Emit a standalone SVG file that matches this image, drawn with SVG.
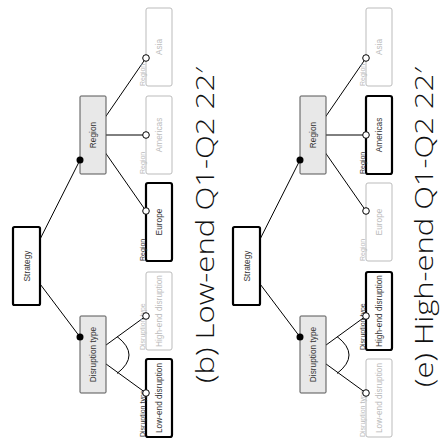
<svg xmlns="http://www.w3.org/2000/svg" width="443" height="444" viewBox="0 0 443 444">
<style>
.edge{stroke:#000;stroke-width:1;fill:none}
.par{fill:#e8e8e8;stroke:#555;stroke-width:1}
.root{fill:#fff;stroke:#000;stroke-width:2.2}
.sel{fill:#fff;stroke:#000;stroke-width:2.2}
.uns{fill:#fff;stroke:#bbb;stroke-width:1}
.t{font-family:"Liberation Sans",Arial,sans-serif;font-size:8.3px;text-anchor:middle;dominant-baseline:central}
.td{fill:#333}
.tg{fill:#bbb}
.lab{font-family:"Liberation Sans",Arial,sans-serif;font-size:7px;text-anchor:start}
.cap{font-family:"Open Sans","Noto Sans",sans-serif;font-size:25px;font-weight:300;text-anchor:middle;fill:#111}
.oc{fill:#fff;stroke:#000;stroke-width:1}
.dot{fill:#000}
</style>
<defs>
<g id="base">
  <g id="connectors">
    <line class="edge" x1="26.5" y1="266" x2="80" y2="160"/>
    <line class="edge" x1="26.5" y1="266" x2="80" y2="337"/>
    <line class="edge" x1="93" y1="135" x2="146" y2="58"/>
    <line class="edge" x1="93" y1="135" x2="146" y2="135"/>
    <line class="edge" x1="93" y1="135" x2="146" y2="211"/>
    <line class="edge" x1="93" y1="354.5" x2="146" y2="316"/>
    <line class="edge" x1="93" y1="354.5" x2="146" y2="393"/>
    <path class="edge" d="M117,336.5 Q141,355 117,373.5"/>
  </g>
</g>
</defs>

<!-- Panel (b) -->
<g id="panel-b">
  <use href="#base"/>
  <g id="b-strategy"><rect class="root" x="13" y="227" width="27" height="78" rx="1.5"/><text class="t td" transform="translate(26.5,266) rotate(-90)">Strategy</text></g>
  <g id="b-region"><rect class="par" x="80" y="96" width="26" height="78" rx="1"/><text class="t td" transform="translate(93,135) rotate(-90)">Region</text></g>
  <g id="b-disruption"><rect class="par" x="80" y="316" width="26" height="77" rx="1"/><text class="t td" transform="translate(93,354.5) rotate(-90)">Disruption type</text></g>
  <g id="b-asia"><rect class="uns" x="146" y="8" width="26" height="78" rx="2"/><text class="t tg" transform="translate(159,47) rotate(-90)">Asia</text><text class="lab tg" transform="translate(144.5,86) rotate(-90)">Region</text></g>
  <g id="b-americas"><rect class="uns" x="146" y="96" width="26" height="78" rx="2"/><text class="t tg" transform="translate(159,135) rotate(-90)">Americas</text><text class="lab tg" transform="translate(144.5,174) rotate(-90)">Region</text></g>
  <g id="b-europe"><rect class="sel" x="146" y="183" width="26" height="78" rx="2"/><text class="t td" transform="translate(159,222) rotate(-90)">Europe</text><text class="lab td" transform="translate(144.5,261) rotate(-90)">Region</text></g>
  <g id="b-high"><rect class="uns" x="146" y="272" width="26" height="78" rx="2"/><text class="t tg" transform="translate(159,311) rotate(-90)">High-end disruption</text><text class="lab tg" transform="translate(144.5,350) rotate(-90)">Disruption type</text></g>
  <g id="b-low"><rect class="sel" x="146" y="359" width="26" height="78" rx="2"/><text class="t td" transform="translate(159,398) rotate(-90)">Low-end disruption</text><text class="lab td" transform="translate(144.5,437) rotate(-90)">Disruption type</text></g>
  <g id="b-decor">
    <circle class="dot" cx="80" cy="160" r="3.5"/><circle class="dot" cx="80" cy="337" r="3.5"/>
    <circle class="oc" cx="146" cy="58" r="3.3"/><circle class="oc" cx="146" cy="135" r="3.3"/><circle class="oc" cx="146" cy="211" r="3.3"/><circle class="oc" cx="146" cy="316" r="3.3"/><circle class="oc" cx="146" cy="393" r="3.3"/>
  </g>
  <text class="cap" transform="translate(214,225) rotate(-90)" textLength="316" lengthAdjust="spacingAndGlyphs">(b) Low-end Q1-Q2 22′</text>
</g>

<!-- Panel (e) -->
<g id="panel-e" transform="translate(220,0)">
  <use href="#base"/>
  <g id="e-strategy"><rect class="root" x="13" y="227" width="27" height="78" rx="1.5"/><text class="t td" transform="translate(26.5,266) rotate(-90)">Strategy</text></g>
  <g id="e-region"><rect class="par" x="80" y="96" width="26" height="78" rx="1"/><text class="t td" transform="translate(93,135) rotate(-90)">Region</text></g>
  <g id="e-disruption"><rect class="par" x="80" y="316" width="26" height="77" rx="1"/><text class="t td" transform="translate(93,354.5) rotate(-90)">Disruption type</text></g>
  <g id="e-asia"><rect class="uns" x="146" y="8" width="26" height="78" rx="2"/><text class="t tg" transform="translate(159,47) rotate(-90)">Asia</text><text class="lab tg" transform="translate(144.5,86) rotate(-90)">Region</text></g>
  <g id="e-americas"><rect class="sel" x="146" y="96" width="26" height="78" rx="2"/><text class="t td" transform="translate(159,135) rotate(-90)">Americas</text><text class="lab td" transform="translate(144.5,174) rotate(-90)">Region</text></g>
  <g id="e-europe"><rect class="uns" x="146" y="183" width="26" height="78" rx="2"/><text class="t tg" transform="translate(159,222) rotate(-90)">Europe</text><text class="lab tg" transform="translate(144.5,261) rotate(-90)">Region</text></g>
  <g id="e-high"><rect class="sel" x="146" y="272" width="26" height="78" rx="2"/><text class="t td" transform="translate(159,311) rotate(-90)">High-end disruption</text><text class="lab td" transform="translate(144.5,350) rotate(-90)">Disruption type</text></g>
  <g id="e-low"><rect class="uns" x="146" y="359" width="26" height="78" rx="2"/><text class="t tg" transform="translate(159,398) rotate(-90)">Low-end disruption</text><text class="lab tg" transform="translate(144.5,437) rotate(-90)">Disruption type</text></g>
  <g id="e-decor">
    <circle class="dot" cx="80" cy="160" r="3.5"/><circle class="dot" cx="80" cy="337" r="3.5"/>
    <circle class="oc" cx="146" cy="58" r="3.3"/><circle class="oc" cx="146" cy="135" r="3.3"/><circle class="oc" cx="146" cy="211" r="3.3"/><circle class="oc" cx="146" cy="316" r="3.3"/><circle class="oc" cx="146" cy="393" r="3.3"/>
  </g>
  <text class="cap" transform="translate(213,227) rotate(-90)" textLength="320" lengthAdjust="spacingAndGlyphs">(e) High-end Q1-Q2 22′</text>
</g>
</svg>
